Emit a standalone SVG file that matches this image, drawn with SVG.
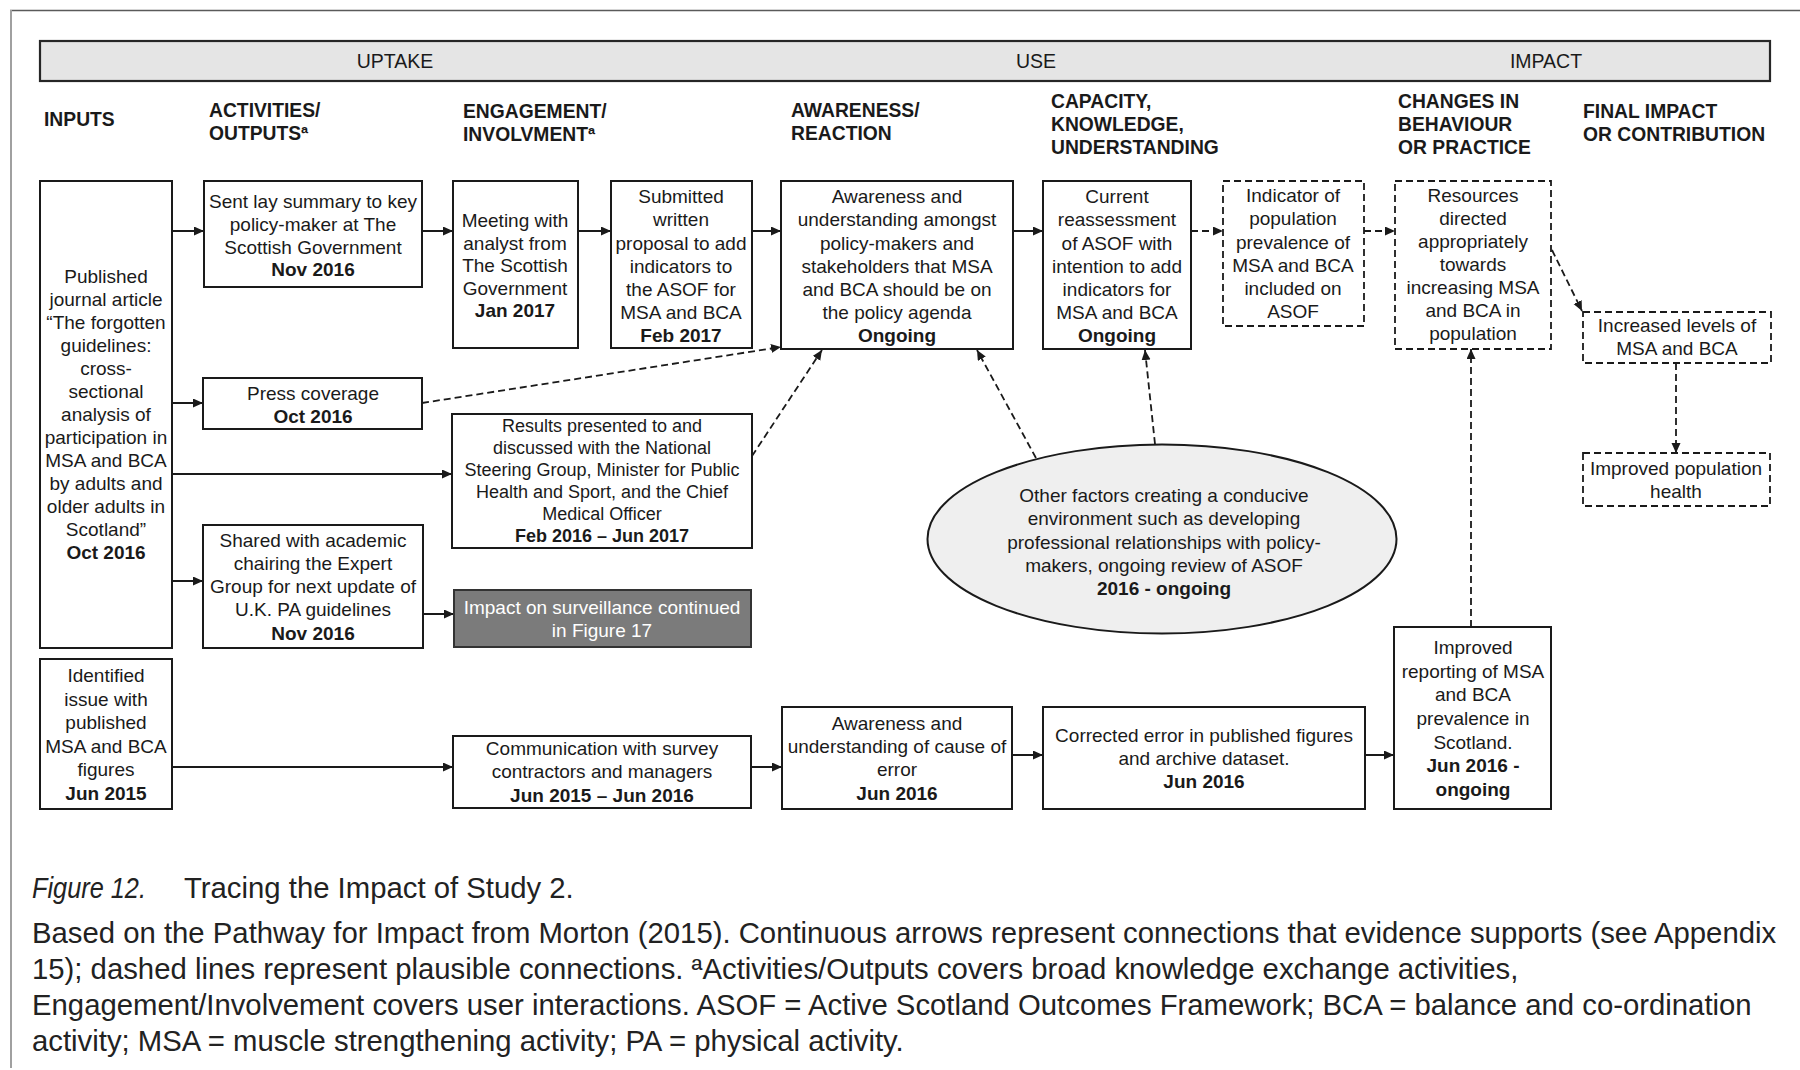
<svg xmlns="http://www.w3.org/2000/svg" width="1800" height="1070" viewBox="0 0 1800 1070">
  <defs>
    <style>
      text { font-family: "Liberation Sans", Arial, sans-serif; fill: #1a1a1a; }
      .t { font-size: 19px; text-anchor: middle; }
      .ts { font-size: 18px; text-anchor: middle; }
      .b { font-weight: bold; }
      .hd { font-size: 19.3px; font-weight: bold; }
      .band { font-size: 19.5px; text-anchor: middle; }
      .box { fill: #ffffff; stroke: #1a1a1a; stroke-width: 2; }
      .dbox { fill: #ffffff; stroke: #1a1a1a; stroke-width: 1.8; stroke-dasharray: 7 4; }
      .solid { fill: none; stroke: #1a1a1a; stroke-width: 2; marker-end: url(#arrow); }
      .dash { fill: none; stroke: #1a1a1a; stroke-width: 1.8; stroke-dasharray: 7 4; marker-end: url(#arrow); }
      .cap { font-size: 29.3px; fill: #222222; }
    </style>
    <marker id="arrow" markerUnits="userSpaceOnUse" markerWidth="11" markerHeight="10" refX="10" refY="4.5" orient="auto">
      <path d="M0,0 L10,4.5 L0,9 z" fill="#1a1a1a"/>
    </marker>
  </defs>

  <rect width="1800" height="1070" fill="#ffffff"/>

  <!-- page frame -->
  <line x1="10" y1="10.5" x2="1800" y2="10.5" stroke="#5a5a5a" stroke-width="1.5"/>
  <line x1="11" y1="10" x2="11" y2="1068" stroke="#a0a0a0" stroke-width="2"/>

  <!-- stage band -->
  <g id="stage-band">
    <rect x="40" y="41" width="1730" height="40" fill="#e5e5e5" stroke="#262626" stroke-width="2.2"/>
    <text class="band" x="395" y="68">UPTAKE</text>
    <text class="band" x="1036" y="68">USE</text>
    <text class="band" x="1546" y="68">IMPACT</text>
  </g>

  <!-- column headings -->
  <g id="headings">
    <text class="hd" x="44" y="126">INPUTS</text>
    <text class="hd" x="209" y="117">ACTIVITIES/</text>
    <text class="hd" x="209" y="140">OUTPUTSª</text>
    <text class="hd" x="463" y="118">ENGAGEMENT/</text>
    <text class="hd" x="463" y="141">INVOLVMENTª</text>
    <text class="hd" x="791" y="117">AWARENESS/</text>
    <text class="hd" x="791" y="140">REACTION</text>
    <text class="hd" x="1051" y="108">CAPACITY,</text>
    <text class="hd" x="1051" y="131">KNOWLEDGE,</text>
    <text class="hd" x="1051" y="154">UNDERSTANDING</text>
    <text class="hd" x="1398" y="108">CHANGES IN</text>
    <text class="hd" x="1398" y="131">BEHAVIOUR</text>
    <text class="hd" x="1398" y="154">OR PRACTICE</text>
    <text class="hd" x="1583" y="118">FINAL IMPACT</text>
    <text class="hd" x="1583" y="141">OR CONTRIBUTION</text>
  </g>

  <!-- connectors -->
  <g id="connectors">
    <path class="solid" d="M172,231 H204"/>
    <path class="solid" d="M422,231 H453"/>
    <path class="solid" d="M578,231 H611"/>
    <path class="solid" d="M752,231 H781"/>
    <path class="solid" d="M1013,231 H1043"/>
    <path class="solid" d="M172,403 H203"/>
    <path class="solid" d="M172,474 H452"/>
    <path class="solid" d="M172,581 H203"/>
    <path class="solid" d="M423,614 H454"/>
    <path class="solid" d="M172,767 H453"/>
    <path class="solid" d="M751,767 H782"/>
    <path class="solid" d="M1012,755 H1043"/>
    <path class="solid" d="M1365,755 H1394"/>

    <path class="dash" d="M1191,231 H1223"/>
    <path class="dash" d="M1364,231 H1395"/>
    <path class="dash" d="M1552,250 L1582,311"/>
    <path class="dash" d="M1676,363 V453"/>
    <path class="dash" d="M1471,627 V349"/>
    <path class="dash" d="M422,403 L781,347"/>
    <path class="dash" d="M752,456 L822,350"/>
    <path class="dash" d="M1036,458 L977,350"/>
    <path class="dash" d="M1155,444 L1145,350"/>
  </g>

  <!-- inputs -->
  <g id="published-article">
    <rect class="box" x="40" y="181" width="132" height="467"/>
    <text class="t" x="106" y="283">Published</text>
    <text class="t" x="106" y="306">journal article</text>
    <text class="t" x="106" y="329">“The forgotten</text>
    <text class="t" x="106" y="352">guidelines:</text>
    <text class="t" x="106" y="375">cross-</text>
    <text class="t" x="106" y="398">sectional</text>
    <text class="t" x="106" y="421">analysis of</text>
    <text class="t" x="106" y="444">participation in</text>
    <text class="t" x="106" y="467">MSA and BCA</text>
    <text class="t" x="106" y="490">by adults and</text>
    <text class="t" x="106" y="513">older adults in</text>
    <text class="t" x="106" y="536">Scotland”</text>
    <text class="t b" x="106" y="559">Oct 2016</text>
  </g>

  <g id="identified-issue">
    <rect class="box" x="40" y="659" width="132" height="150"/>
    <text class="t" x="106" y="682">Identified</text>
    <text class="t" x="106" y="705.5">issue with</text>
    <text class="t" x="106" y="729">published</text>
    <text class="t" x="106" y="752.5">MSA and BCA</text>
    <text class="t" x="106" y="776">figures</text>
    <text class="t b" x="106" y="800">Jun 2015</text>
  </g>

  <!-- activities / outputs -->
  <g id="lay-summary">
    <rect class="box" x="204" y="181" width="218" height="106"/>
    <text class="t" x="313" y="208">Sent lay summary to key</text>
    <text class="t" x="313" y="231">policy-maker at The</text>
    <text class="t" x="313" y="253.5">Scottish Government</text>
    <text class="t b" x="313" y="276">Nov 2016</text>
  </g>

  <g id="press-coverage">
    <rect class="box" x="203" y="378" width="219" height="51"/>
    <text class="t" x="313" y="400">Press coverage</text>
    <text class="t b" x="313" y="423">Oct 2016</text>
  </g>

  <g id="shared-academic">
    <rect class="box" x="203" y="525" width="220" height="123"/>
    <text class="t" x="313" y="547">Shared with academic</text>
    <text class="t" x="313" y="570">chairing the Expert</text>
    <text class="t" x="313" y="593">Group for next update of</text>
    <text class="t" x="313" y="616">U.K. PA guidelines</text>
    <text class="t b" x="313" y="640">Nov 2016</text>
  </g>

  <!-- engagement / involvement -->
  <g id="meeting-analyst">
    <rect class="box" x="453" y="181" width="125" height="167"/>
    <text class="t" x="515" y="227">Meeting with</text>
    <text class="t" x="515" y="249.5">analyst from</text>
    <text class="t" x="515" y="272">The Scottish</text>
    <text class="t" x="515" y="294.5">Government</text>
    <text class="t b" x="515" y="317">Jan 2017</text>
  </g>

  <g id="submitted-proposal">
    <rect class="box" x="611" y="181" width="141" height="167"/>
    <text class="t" x="681" y="203">Submitted</text>
    <text class="t" x="681" y="226">written</text>
    <text class="t" x="681" y="249.5">proposal to add</text>
    <text class="t" x="681" y="272.5">indicators to</text>
    <text class="t" x="681" y="295.5">the ASOF for</text>
    <text class="t" x="681" y="319">MSA and BCA</text>
    <text class="t b" x="681" y="342">Feb 2017</text>
  </g>

  <g id="results-presented">
    <rect class="box" x="452" y="414" width="300" height="134"/>
    <text class="ts" x="602" y="432">Results presented to and</text>
    <text class="ts" x="602" y="454">discussed with the National</text>
    <text class="ts" x="602" y="476">Steering Group, Minister for Public</text>
    <text class="ts" x="602" y="497.5">Health and Sport, and the Chief</text>
    <text class="ts" x="602" y="519.5">Medical Officer</text>
    <text class="ts b" x="602" y="541.5">Feb 2016 – Jun 2017</text>
  </g>

  <g id="surveillance-continued">
    <rect x="454" y="590" width="297" height="57" fill="#7b7b7b" stroke="#333333" stroke-width="2"/>
    <text class="t" x="602" y="614" style="fill:#ffffff">Impact on surveillance  continued</text>
    <text class="t" x="602" y="637" style="fill:#ffffff">in Figure 17</text>
  </g>

  <g id="survey-communication">
    <rect class="box" x="453" y="736" width="298" height="72"/>
    <text class="t" x="602" y="755">Communication with survey</text>
    <text class="t" x="602" y="778">contractors and managers</text>
    <text class="t b" x="602" y="802">Jun 2015 – Jun 2016</text>
  </g>

  <!-- awareness / reaction -->
  <g id="awareness-policy">
    <rect class="box" x="781" y="181" width="232" height="168"/>
    <text class="t" x="897" y="203">Awareness and</text>
    <text class="t" x="897" y="226">understanding amongst</text>
    <text class="t" x="897" y="249.5">policy-makers and</text>
    <text class="t" x="897" y="272.5">stakeholders that MSA</text>
    <text class="t" x="897" y="295.5">and BCA should be on</text>
    <text class="t" x="897" y="319">the policy agenda</text>
    <text class="t b" x="897" y="342">Ongoing</text>
  </g>

  <g id="awareness-error">
    <rect class="box" x="782" y="707" width="230" height="102"/>
    <text class="t" x="897" y="730">Awareness and</text>
    <text class="t" x="897" y="753">understanding of cause of</text>
    <text class="t" x="897" y="776">error</text>
    <text class="t b" x="897" y="800">Jun 2016</text>
  </g>

  <!-- capacity / knowledge -->
  <g id="asof-reassessment">
    <rect class="box" x="1043" y="181" width="148" height="168"/>
    <text class="t" x="1117" y="203">Current</text>
    <text class="t" x="1117" y="226">reassessment</text>
    <text class="t" x="1117" y="249.5">of ASOF with</text>
    <text class="t" x="1117" y="272.5">intention to add</text>
    <text class="t" x="1117" y="295.5">indicators for</text>
    <text class="t" x="1117" y="319">MSA and BCA</text>
    <text class="t b" x="1117" y="342">Ongoing</text>
  </g>

  <g id="corrected-error">
    <rect class="box" x="1043" y="707" width="322" height="102"/>
    <text class="t" x="1204" y="742">Corrected error in published figures</text>
    <text class="t" x="1204" y="765">and archive dataset.</text>
    <text class="t b" x="1204" y="788">Jun 2016</text>
  </g>

  <g id="other-factors">
    <ellipse cx="1162" cy="539" rx="234.5" ry="94.5" fill="#efefef" stroke="#1a1a1a" stroke-width="2"/>
    <text class="t" x="1164" y="502">Other factors creating a conducive</text>
    <text class="t" x="1164" y="525">environment such as developing</text>
    <text class="t" x="1164" y="548.5">professional relationships with policy-</text>
    <text class="t" x="1164" y="571.5">makers, ongoing review of ASOF</text>
    <text class="t b" x="1164" y="595">2016 - ongoing</text>
  </g>

  <g id="asof-indicator">
    <rect class="dbox" x="1223" y="181" width="141" height="145"/>
    <text class="t" x="1293" y="202">Indicator of</text>
    <text class="t" x="1293" y="225">population</text>
    <text class="t" x="1293" y="248.5">prevalence of</text>
    <text class="t" x="1293" y="271.5">MSA and BCA</text>
    <text class="t" x="1293" y="295">included on</text>
    <text class="t" x="1293" y="318">ASOF</text>
  </g>

  <!-- changes in behaviour / practice -->
  <g id="resources-directed">
    <rect class="dbox" x="1395" y="181" width="156" height="168"/>
    <text class="t" x="1473" y="202">Resources</text>
    <text class="t" x="1473" y="225">directed</text>
    <text class="t" x="1473" y="248">appropriately</text>
    <text class="t" x="1473" y="271">towards</text>
    <text class="t" x="1473" y="294">increasing MSA</text>
    <text class="t" x="1473" y="317">and BCA in</text>
    <text class="t" x="1473" y="340">population</text>
  </g>

  <g id="improved-reporting">
    <rect class="box" x="1394" y="627" width="157" height="182"/>
    <text class="t" x="1473" y="654">Improved</text>
    <text class="t" x="1473" y="677.5">reporting of MSA</text>
    <text class="t" x="1473" y="701">and BCA</text>
    <text class="t" x="1473" y="725">prevalence in</text>
    <text class="t" x="1473" y="748.5">Scotland.</text>
    <text class="t b" x="1473" y="772">Jun 2016 -</text>
    <text class="t b" x="1473" y="795.5">ongoing</text>
  </g>

  <!-- final impact -->
  <g id="increased-levels">
    <rect class="dbox" x="1583" y="312" width="188" height="51"/>
    <text class="t" x="1677" y="332">Increased levels of</text>
    <text class="t" x="1677" y="355">MSA and BCA</text>
  </g>

  <g id="population-health">
    <rect class="dbox" x="1583" y="453" width="187" height="53"/>
    <text class="t" x="1676" y="475">Improved population</text>
    <text class="t" x="1676" y="498">health</text>
  </g>

  <!-- caption -->
  <g id="caption">
    <text class="cap" x="32" y="898" font-style="italic" textLength="114" lengthAdjust="spacingAndGlyphs">Figure 12.</text>
    <text class="cap" x="184" y="898">Tracing the Impact of Study 2.</text>
    <text class="cap" x="32" y="943">Based on the Pathway for Impact from Morton (2015). Continuous arrows represent connections that evidence supports (see Appendix</text>
    <text class="cap" x="32" y="979">15); dashed lines represent plausible connections. ªActivities/Outputs covers broad knowledge exchange activities,</text>
    <text class="cap" x="32" y="1015">Engagement/Involvement covers user interactions. ASOF = Active Scotland Outcomes Framework; BCA = balance and co-ordination</text>
    <text class="cap" x="32" y="1051">activity; MSA = muscle strengthening activity; PA = physical activity.</text>
  </g>
</svg>
